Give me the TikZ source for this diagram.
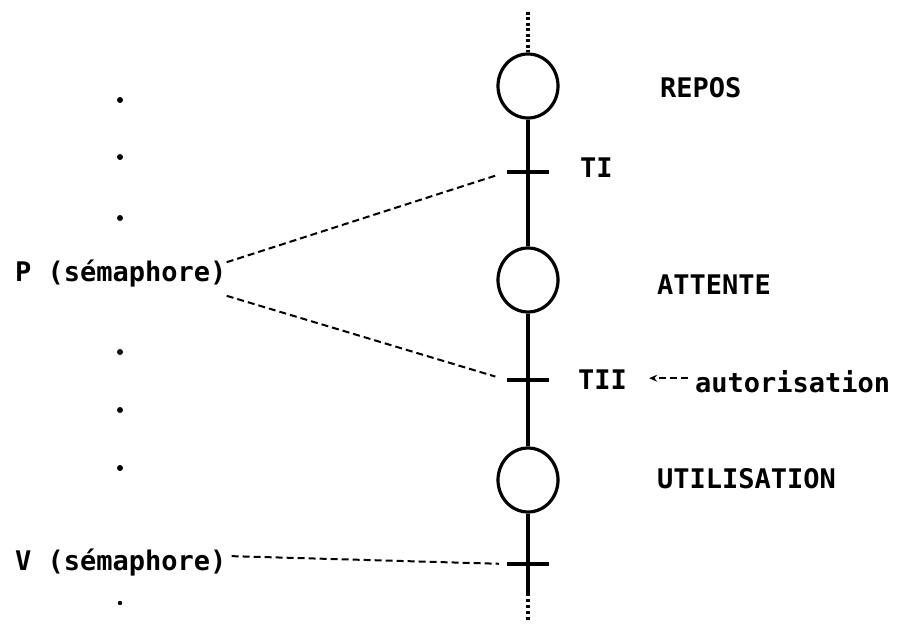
\documentclass[tikz,border=0pt]{standalone}
\usepackage{fontspec}
\setmainfont{DejaVu Sans Mono}
\usetikzlibrary{shapes.geometric,arrows.meta}

\begin{document}
\begin{tikzpicture}[x=1pt,y=-1pt,
etat/.style={draw,ellipse,line width=3.2pt,minimum width=60pt,minimum height=64pt,inner sep=0pt},
trans/.style={fill,rectangle,minimum width=42pt,minimum height=4pt,inner sep=0pt},
txt/.style={inner sep=0pt,anchor=base west,font=\bfseries\fontsize{27}{32}\selectfont},
lien/.style={line width=2pt,dash pattern=on 7pt off 4pt},
axe/.style={line width=3.2pt}]
\useasboundingbox (0,0) rectangle (919,628);

% reseau
\coordinate (haut) at (528,12);
\coordinate (h1) at (528,50);
\node[etat] (e1) at (528,86) {};
\node[trans] (t1) at (528,172) {};
\node[etat] (e2) at (528,280) {};
\node[trans] (t2) at (528,380) {};
\node[etat] (e3) at (528,480) {};
\node[trans] (t3) at (528,564) {};
\coordinate (b1) at (528,593);
\coordinate (bas) at (528,622);

\draw[axe,dash pattern=on 3pt off 2.5pt] (haut) -- (h1);
\draw[axe] (h1) -- (e1) (e1) -- (e2) (e2) -- (e3) (e3) -- (b1);
\draw[axe,dash pattern=on 3pt off 3pt] (b1) -- (bas);

% textes
\node[txt] (repos) at (660,98) {REPOS};
\node[txt] (attente) at (657,295) {ATTENTE};
\node[txt] (util) at (657,488) {UTILISATION};
\node[txt] (ti) at (580,178) {TI};
\node[txt] (tii) at (578,390) {TII};
\node[txt] (auto) at (695,392) {autorisation};
\node[txt] (P) at (15,282) {P (sémaphore)};
\node[txt] (V) at (15,570) {V (sémaphore)};

\draw[lien,shorten >=10pt] ([yshift=-2pt]P.north east) -- (t1.west);
\draw[lien,shorten >=12pt] ([yshift=-8pt]P.south east) -- (t2.west);
\draw[lien,shorten <=5pt,shorten >=8pt] ([yshift=6pt]V.east) -- (t3.west);
\draw[lien,shorten <=7pt,shorten >=22pt,-{Stealth[length=8pt,width=7pt]}] ([yshift=3pt]auto.west) -- ([yshift=3pt]tii.east |- auto.west);

% points
\foreach \y in {100,157,218,352,410,468}{
\fill (120,\y) circle (3pt);}
\fill (120,603) circle (2.2pt);

\end{tikzpicture}
\end{document}
